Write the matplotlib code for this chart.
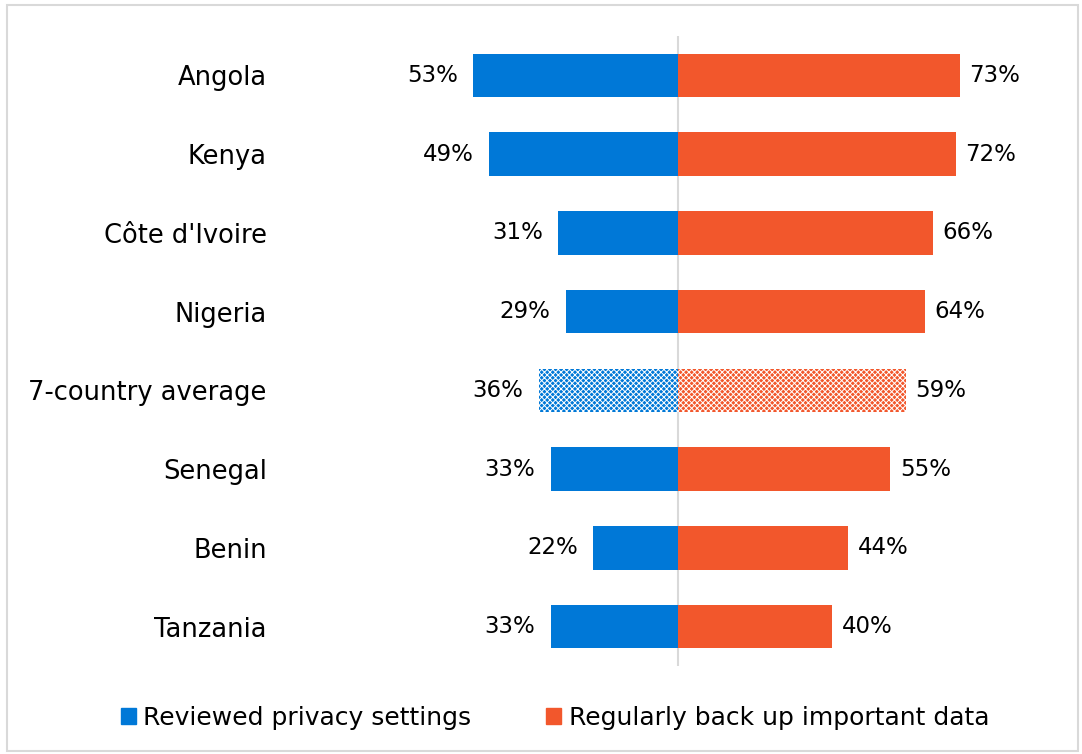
import matplotlib.pyplot as plt
from matplotlib.patches import Patch, Rectangle

plt.rcParams['font.family'] = ['DejaVu Sans']
plt.rcParams['hatch.linewidth'] = 0.7

countries = ['Angola', 'Kenya', "Côte d'Ivoire", 'Nigeria', '7-country average',
             'Senegal', 'Benin', 'Tanzania']
privacy = [53, 49, 31, 29, 36, 33, 22, 33]
backup = [73, 72, 66, 64, 59, 55, 44, 40]
average_row = '7-country average'

blue = '#0078D7'
orange = '#F2572C'

fig = plt.figure(figsize=(10.82, 7.54), dpi=100)
W, H = 1082, 754
# axes placed in pixel terms, centre line sits at x=678
ax = fig.add_axes([300 / W, 1 - 666 / H, 760 / W, 630 / H])

ypos = list(range(len(countries)))
for i, name in enumerate(countries):
    kw = dict(height=0.55, linewidth=0)
    if name == average_row:
        kw.update(hatch='xxxxxx', edgecolor='white')
    ax.barh(i, -privacy[i], color=blue, **kw)
    ax.barh(i, backup[i], color=orange, **kw)
    ax.annotate(f'{privacy[i]}%', (-privacy[i], i), xytext=(-11, 0),
                textcoords='offset points', ha='right', va='center', fontsize=16.5)
    ax.annotate(f'{backup[i]}%', (backup[i], i), xytext=(7, 0),
                textcoords='offset points', ha='left', va='center', fontsize=16.5)

ax.axvline(0, color='#D9D9D9', linewidth=1.5, zorder=0)

ax.set_xlim(-97.9, 99.0)
ax.set_ylim(7.5, -0.5)
ax.set_yticks(ypos)
ax.set_yticklabels(countries, fontsize=18.5)
ax.tick_params(axis='y', length=0, pad=24)
ax.set_xticks([])
for s in ax.spines.values():
    s.set_visible(False)

handles = [Patch(color=blue, label='Reviewed privacy settings'),
           Patch(color=orange, label='Regularly back up important data')]
fig.legend(handles=handles, loc='center', bbox_to_anchor=(555 / W, 1 - 718 / H),
           ncol=2, frameon=False, fontsize=18, handlelength=0.6, handleheight=0.6,
           handletextpad=0.3, columnspacing=3.0)

fig.patches.append(Rectangle((7 / W, 1 - 751 / H), 1071 / W, 746 / H,
                             transform=fig.transFigure, fill=False,
                             edgecolor='#D9D9D9', linewidth=1.5))

fig.savefig('out.png', dpi=100)
